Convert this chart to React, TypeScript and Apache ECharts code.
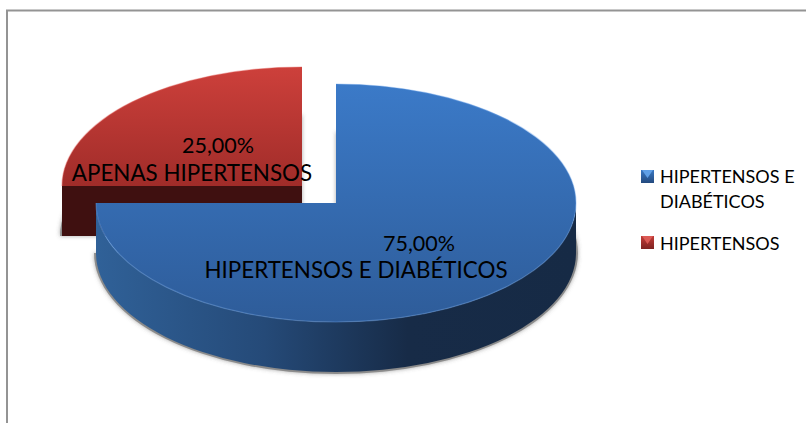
import React, { useEffect, useRef } from "react";
import * as echarts from "echarts";

const categories = ["HIPERTENSOS E DIABÉTICOS", "HIPERTENSOS"];
const sliceLabels = ["HIPERTENSOS E DIABÉTICOS", "APENAS HIPERTENSOS"];
const percentLabels = ["75,00%", "25,00%"];
const sliceValues = [75, 25];
const legendLines = ["HIPERTENSOS E\nDIABÉTICOS", "HIPERTENSOS"];
const drawOrder = [1, 0];

const FONT = "Lato, Carlito, 'Open Sans', sans-serif";

const layouts = [
  {
    cx: 336, cy: 203, rx: 240, ry: 119, depth: 50,
    top: ["#3b7ac8", "#2e5c99"], rim: "rgba(110,165,235,0.4)",
    side: [[0, "#306198"], [0.35, "#254a78"], [0.65, "#172b47"], [1, "#162a45"]],
    wall: "#3f1010",
    pct: [419, 243], name: [356, 269.5],
  },
  {
    cx: 302, cy: 186, rx: 240, ry: 119, depth: 50,
    top: ["#cd403b", "#a02c29"], rim: "rgba(225,90,85,0.4)",
    side: [[0, "#3f1010"], [1, "#3f1010"]],
    wall: "#3f1010",
    pct: [218, 145], name: [192, 172],
  },
];

const linear = (x2: number, y2: number, stops: any[]) => ({
  type: "linear", x: 0, y: 0, x2, y2, global: false,
  colorStops: stops.map(([offset, color]) => ({ offset, color })),
});

const total = sliceValues.reduce((a, b) => a + b, 0);
const startAngles = sliceValues.map((_, i) =>
  sliceValues.slice(0, i).reduce((a, b) => a + b, 0) / total * 2 * Math.PI
);

function renderSlice(_params: any, api: any) {
  const index = api.value(0);
  const value = api.value(1);
  const L = layouts[index];
  const a0 = startAngles[index];
  const a1 = a0 + (value / total) * 2 * Math.PI;
  const pt = (a: number, dy = 0, grow = 0) => [
    L.cx + (L.rx + grow) * Math.sin(a),
    L.cy + dy - (L.ry + grow) * Math.cos(a),
  ];
  const arcTo = (to: number[], large: boolean, sweep: number, grow = 0) =>
    `A ${L.rx + grow} ${L.ry + grow} 0 ${large ? 1 : 0} ${sweep} ${to[0]} ${to[1]}`;
  const sector = (dy = 0, grow = 0) => {
    const p0 = pt(a0, dy, grow);
    const p1 = pt(a1, dy, grow);
    return `M ${L.cx} ${L.cy + dy} L ${p0[0]} ${p0[1]} ${arcTo(p1, a1 - a0 > Math.PI, 1, grow)} Z`;
  };
  const children: any[] = [];

  // soft shadow: the slice's lower face, slightly enlarged
  children.push({
    type: "path",
    shape: { pathData: sector(L.depth, 2) },
    style: { fill: "rgba(120,120,120,0.75)", shadowBlur: 4, shadowColor: "rgba(90,90,90,0.7)" },
    silent: true,
  });

  // curved front side, only the part facing the viewer
  const f0 = Math.max(a0, Math.PI / 2);
  const f1 = Math.min(a1, Math.PI * 1.5);
  if (f1 > f0) {
    const t0 = pt(f0), t1 = pt(f1), b0 = pt(f0, L.depth), b1 = pt(f1, L.depth);
    children.push({
      type: "path",
      shape: {
        pathData: `M ${t0[0]} ${t0[1]} ${arcTo(t1, false, 1)} L ${b1[0]} ${b1[1]} ${arcTo(b0, false, 0)} Z`,
      },
      style: { fill: linear(1, 0, L.side) },
    });
  }

  // flat cut face that looks to the front
  if (a0 > Math.PI && a0 < 2 * Math.PI) {
    const p = pt(a0), q = pt(a0, L.depth);
    children.push({
      type: "path",
      shape: {
        pathData: `M ${L.cx} ${L.cy} L ${p[0]} ${p[1]} L ${q[0]} ${q[1]} L ${L.cx} ${L.cy + L.depth} Z`,
      },
      style: { fill: L.wall },
    });
  }

  // top face
  children.push({
    type: "path",
    shape: { pathData: sector() },
    style: { fill: linear(0, 1, [[0, L.top[0]], [1, L.top[1]]]) },
  });

  // light rim along the outer edge
  const r0 = pt(a0), r1 = pt(a1);
  children.push({
    type: "path",
    shape: { pathData: `M ${r0[0]} ${r0[1]} ${arcTo(r1, a1 - a0 > Math.PI, 1)}` },
    style: { fill: "none", stroke: L.rim, lineWidth: 1.2 },
    silent: true,
  });

  children.push({
    type: "text",
    style: {
      text: percentLabels[index], x: L.pct[0], y: L.pct[1],
      align: "center", verticalAlign: "middle",
      font: `21.5px ${FONT}`, fill: "#000", lineHeight: 20,
    },
  });
  children.push({
    type: "text",
    style: {
      text: sliceLabels[index], x: L.name[0], y: L.name[1],
      align: "center", verticalAlign: "middle",
      font: `22.4px ${FONT}`, fill: "#000", lineHeight: 20,
    },
  });
  return { type: "group", children };
}

const legendSwatch = (y: number, base: string[], tip: string) => ({
  type: "group",
  x: 641,
  y,
  children: [
    { type: "rect", shape: { x: 0, y: 0, width: 13, height: 13 },
      style: { fill: linear(0, 1, [[0, base[0]], [1, base[1]]]) } },
    { type: "polygon", shape: { points: [[1, 0], [12, 0], [6.5, 8]] }, style: { fill: tip } },
  ],
});

const legendText = (y: number, text: string) => ({
  type: "text",
  x: 660,
  y,
  style: { text, font: `18px ${FONT}`, fill: "#000", lineHeight: 25, align: "left", verticalAlign: "top" },
});

export default function App() {
  const ref = useRef<HTMLDivElement>(null);
  useEffect(() => {
    const chart = echarts.init(ref.current!, undefined, { renderer: "svg" });
    chart.setOption({
      animation: false,
      backgroundColor: "#fff",
      graphic: [
        {
          type: "polyline",
          shape: { points: [[7, 423], [7, 10.5], [806, 10.5]] },
          style: { stroke: "#949494", lineWidth: 2, fill: "none" },
        },
        legendSwatch(170, ["#3a78c4", "#234a7e"], "#5f9fe6"),
        legendSwatch(236, ["#c23c38", "#7e2321"], "#dc5a55"),
        legendText(163, legendLines[0]),
        legendText(230, legendLines[1]),
      ],
      series: [
        {
          type: "custom",
          name: categories.join(" / "),
          coordinateSystem: "none",
          renderItem: renderSlice,
          data: drawOrder.map((i) => [i, sliceValues[i]]),
          silent: true,
        },
      ],
    });
    return () => chart.dispose();
  }, []);
  return (
    <div
      ref={ref}
      style={{ position: "fixed", left: 0, top: 0, width: 806, height: 423, background: "#fff" }}
    />
  );
}
